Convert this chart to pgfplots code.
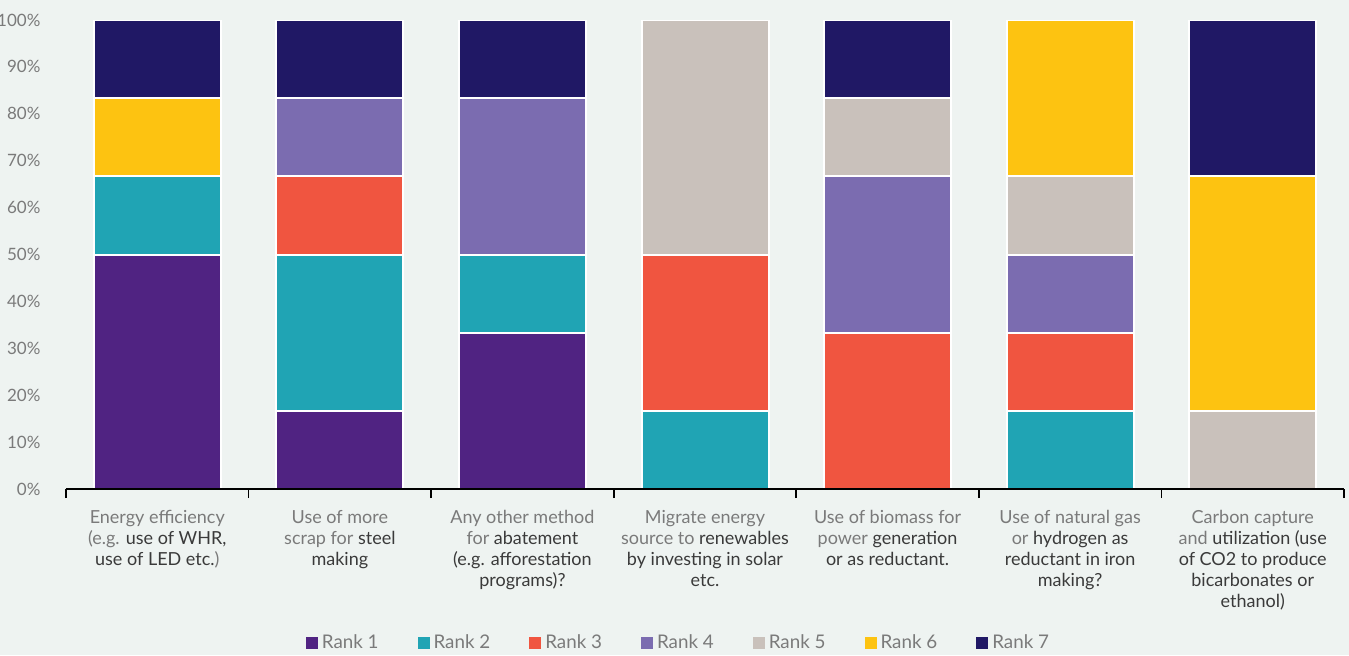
\documentclass[border=0pt]{standalone}
\usepackage{pgfplots}
\pgfplotsset{compat=1.18}
\usepackage{fontspec}
\setmainfont{Lato}
\definecolor{bg}{HTML}{EEF3F1}
\definecolor{rA}{HTML}{502382}
\definecolor{rB}{HTML}{20A4B4}
\definecolor{rC}{HTML}{F05540}
\definecolor{rD}{HTML}{7B6CB0}
\definecolor{rE}{HTML}{C9C1BB}
\definecolor{rF}{HTML}{FDC311}
\definecolor{rG}{HTML}{201865}
\definecolor{labgray}{HTML}{7A7A7A}
\definecolor{labdark}{HTML}{3A3A3A}
\newcommand{\dk}[1]{\textcolor{labdark}{#1}}
\begin{document}
\begin{tikzpicture}
\path[use as bounding box, fill=bg] (-33pt,-83pt) rectangle (641.5pt,244.5pt);
\begin{axis}[
  at={(0pt,0pt)}, anchor=south west,
  scale only axis, width=639pt, height=234.5pt,
  ybar stacked, bar width=63.5pt,
  xmin=-0.5, xmax=6.5, ymin=0, ymax=100,
  axis on top,
  axis x line*=bottom,
  axis y line*=left,
  y axis line style={draw=none},
  x axis line style={line width=0.8pt, black},
  xtick={0,...,6},
  major x tick style={draw=none},
  minor xtick={-0.5,0.5,...,6.5},
  minor x tick style={line width=0.8pt, black},
  minor tick length=4.5pt,
  tick align=outside,
  ytick={0,10,...,100},
  major y tick style={draw=none},
  yticklabel={\pgfmathprintnumber{\tick}\%},
  /pgf/number format/assume math mode=true,
  yticklabel style={font=\fontsize{8.5}{10}\selectfont, text=labgray, xshift=-5pt},
  xticklabel style={font=\fontsize{9}{10.5}\selectfont, text=labgray, align=center, yshift=-3pt},
  xticklabels={
    {Energy efficiency\\(e.g. \dk{use of WHR,}\\\dk{use of LED etc.})},
    {Use of more\\scrap for \dk{steel}\\\dk{making}},
    {Any other method\\for \dk{abatement}\\\dk{(e.g. afforestation}\\\dk{programs)?}},
    {Migrate energy\\source to \dk{renewables}\\\dk{by investing in solar}\\\dk{etc.}},
    {Use of biomass for\\power \dk{generation}\\\dk{or as reductant.}},
    {Use of natural gas\\or \dk{hydrogen as}\\\dk{reductant in iron}\\\dk{making?}},
    {Carbon capture\\and \dk{utilization (use}\\\dk{of CO2 to produce}\\\dk{bicarbonates or}\\\dk{ethanol)}}
  },
  every axis plot/.append style={draw=white, line width=1pt},
  legend columns=7,
  legend style={at={(0.48,-0.328)}, anchor=center, draw=none, fill=none,
    font=\fontsize{9.4}{10}\selectfont, text=labgray,
    /tikz/every even column/.append style={column sep=17.5pt}},
  legend image code/.code={\fill[#1, draw=none] (0pt,-3pt) rectangle (6pt,3pt);},
]
\addplot[fill=rA] coordinates {(0,50) (1,16.667) (2,33.333) (3,0) (4,0) (5,0) (6,0)};
\addplot[fill=rB] coordinates {(0,16.667) (1,33.333) (2,16.667) (3,16.667) (4,0) (5,16.667) (6,0)};
\addplot[fill=rC] coordinates {(0,0) (1,16.667) (2,0) (3,33.333) (4,33.333) (5,16.667) (6,0)};
\addplot[fill=rD] coordinates {(0,0) (1,16.667) (2,33.333) (3,0) (4,33.333) (5,16.667) (6,0)};
\addplot[fill=rE] coordinates {(0,0) (1,0) (2,0) (3,50) (4,16.667) (5,16.667) (6,16.667)};
\addplot[fill=rF] coordinates {(0,16.667) (1,0) (2,0) (3,0) (4,0) (5,33.333) (6,50)};
\addplot[fill=rG] coordinates {(0,16.667) (1,16.667) (2,16.667) (3,0) (4,16.667) (5,0) (6,33.333)};
\legend{Rank 1, Rank 2, Rank 3, Rank 4, Rank 5, Rank 6, Rank 7}
\end{axis}
\end{tikzpicture}
\end{document}
